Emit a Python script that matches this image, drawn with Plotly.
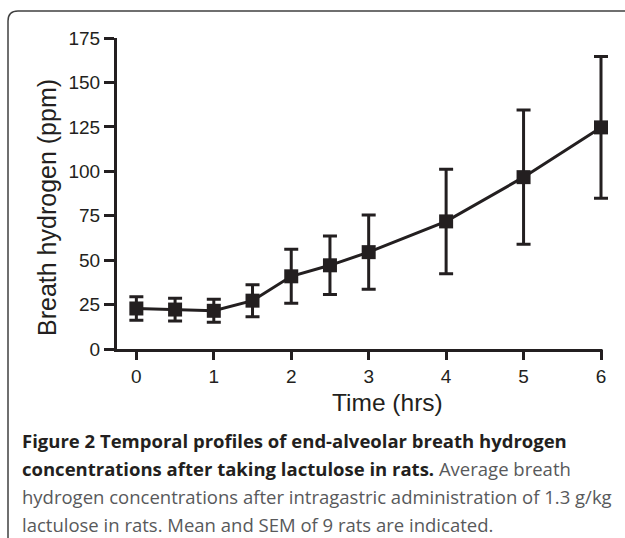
import plotly.graph_objects as go

# ---- data ----
time_hrs = [0, 0.5, 1, 1.5, 2, 2.5, 3, 4, 5, 6]
mean_h2 = [22.8, 22.2, 21.5, 27.2, 40.9, 47.1, 54.5, 71.8, 96.7, 124.7]
sem_h2 = [6.6, 6.4, 6.5, 9.0, 15.2, 16.5, 20.9, 29.4, 37.8, 39.9]
x_ticks = [0, 1, 2, 3, 4, 5, 6]
y_ticks = [0, 25, 50, 75, 100, 125, 150, 175]

caption_lines = [
    "<b>Figure 2 Temporal profiles of end-alveolar breath hydrogen</b>",
    "<b>concentrations after taking lactulose in rats.</b> <span style='color:#58595b'>Average breath</span>",
    "<span style='color:#58595b'>hydrogen concentrations after intragastric administration of 1.3 g/kg</span>",
    "<span style='color:#58595b'>lactulose in rats. Mean and SEM of 9 rats are indicated.</span>",
]

W, H = 625, 538
L, T, B = 117, 38, 349          # plot area in pixels
X_END = 601                      # pixel where x = 6 (end of the axis line)
R = 616                          # plot area extended so end error bar is not clipped
INK = "#231f20"

x_min, x_last = -0.25, 6
px_per_x = (X_END - L) / (x_last - x_min)
x_max = x_last + (R - X_END) / px_per_x


def px_x(px):
    return (px - L) / (R - L)


def px_y(py):
    return (B - py) / (B - T)


fig = go.Figure()
fig.add_trace(go.Scatter(
    x=time_hrs, y=mean_h2, mode="lines+markers",
    line=dict(color=INK, width=3),
    marker=dict(symbol="square", size=14, color=INK),
    error_y=dict(type="data", array=sem_h2, visible=True, color=INK, thickness=3, width=7),
    cliponaxis=False, showlegend=False,
))

axis_common = dict(ticks="outside", ticklen=10, tickwidth=3, tickcolor=INK,
                   showgrid=False, zeroline=False,
                   tickfont=dict(family="Liberation Sans, Arial", size=19, color=INK))

fig.update_xaxes(range=[x_min, x_max], tickvals=x_ticks, showline=False, **axis_common)
fig.update_yaxes(range=[0, 175], tickvals=y_ticks, showline=True, linewidth=3, linecolor=INK,
                 **axis_common)

# x axis line ending at the last tick
fig.add_shape(type="line", xref="paper", yref="paper",
              x0=px_x(L - 3), x1=px_x(X_END + 1.5), y0=px_y(B + 1.5), y1=px_y(B + 1.5),
              line=dict(color=INK, width=3))

# axis titles
fig.add_annotation(text="Time (hrs)", xref="paper", yref="paper", x=px_x(387), y=px_y(402),
                   showarrow=False, xanchor="center", yanchor="middle",
                   font=dict(family="Liberation Sans, Arial", size=24.5, color=INK))
fig.add_annotation(text="Breath hydrogen (ppm)", xref="paper", yref="paper", x=px_x(47), y=px_y(208),
                   showarrow=False, xanchor="center", yanchor="middle", textangle=-90,
                   font=dict(family="Liberation Sans, Arial", size=25, color=INK))

# caption
baselines = [446, 474, 502, 530]
for line, base in zip(caption_lines, baselines):
    fig.add_annotation(text=line, xref="paper", yref="paper", x=px_x(20), y=px_y(base - 6),
                       showarrow=False, xanchor="left", yanchor="middle",
                       font=dict(family="Open Sans", size=18.5, color=INK))

# rounded border
x0, y0, x1, y1, r = px_x(8), px_y(11), px_x(660), px_y(580), 10
rx = r / (R - L)
ry = r / (B - T)
path = (f"M {x0},{y1} L {x0},{y0 - ry} Q {x0},{y0} {x0 + rx},{y0} L {x1},{y0}")
fig.add_shape(type="path", path=path, xref="paper", yref="paper",
              line=dict(color="#404040", width=1.5))

fig.update_layout(width=W, height=H, margin=dict(l=L, r=W - R, t=T, b=H - B),
                  plot_bgcolor="white", paper_bgcolor="white")

fig.write_html("out.html", config={"displayModeBar": False},
               post_script="document.body.style.margin='0';document.body.style.overflow='hidden';")
